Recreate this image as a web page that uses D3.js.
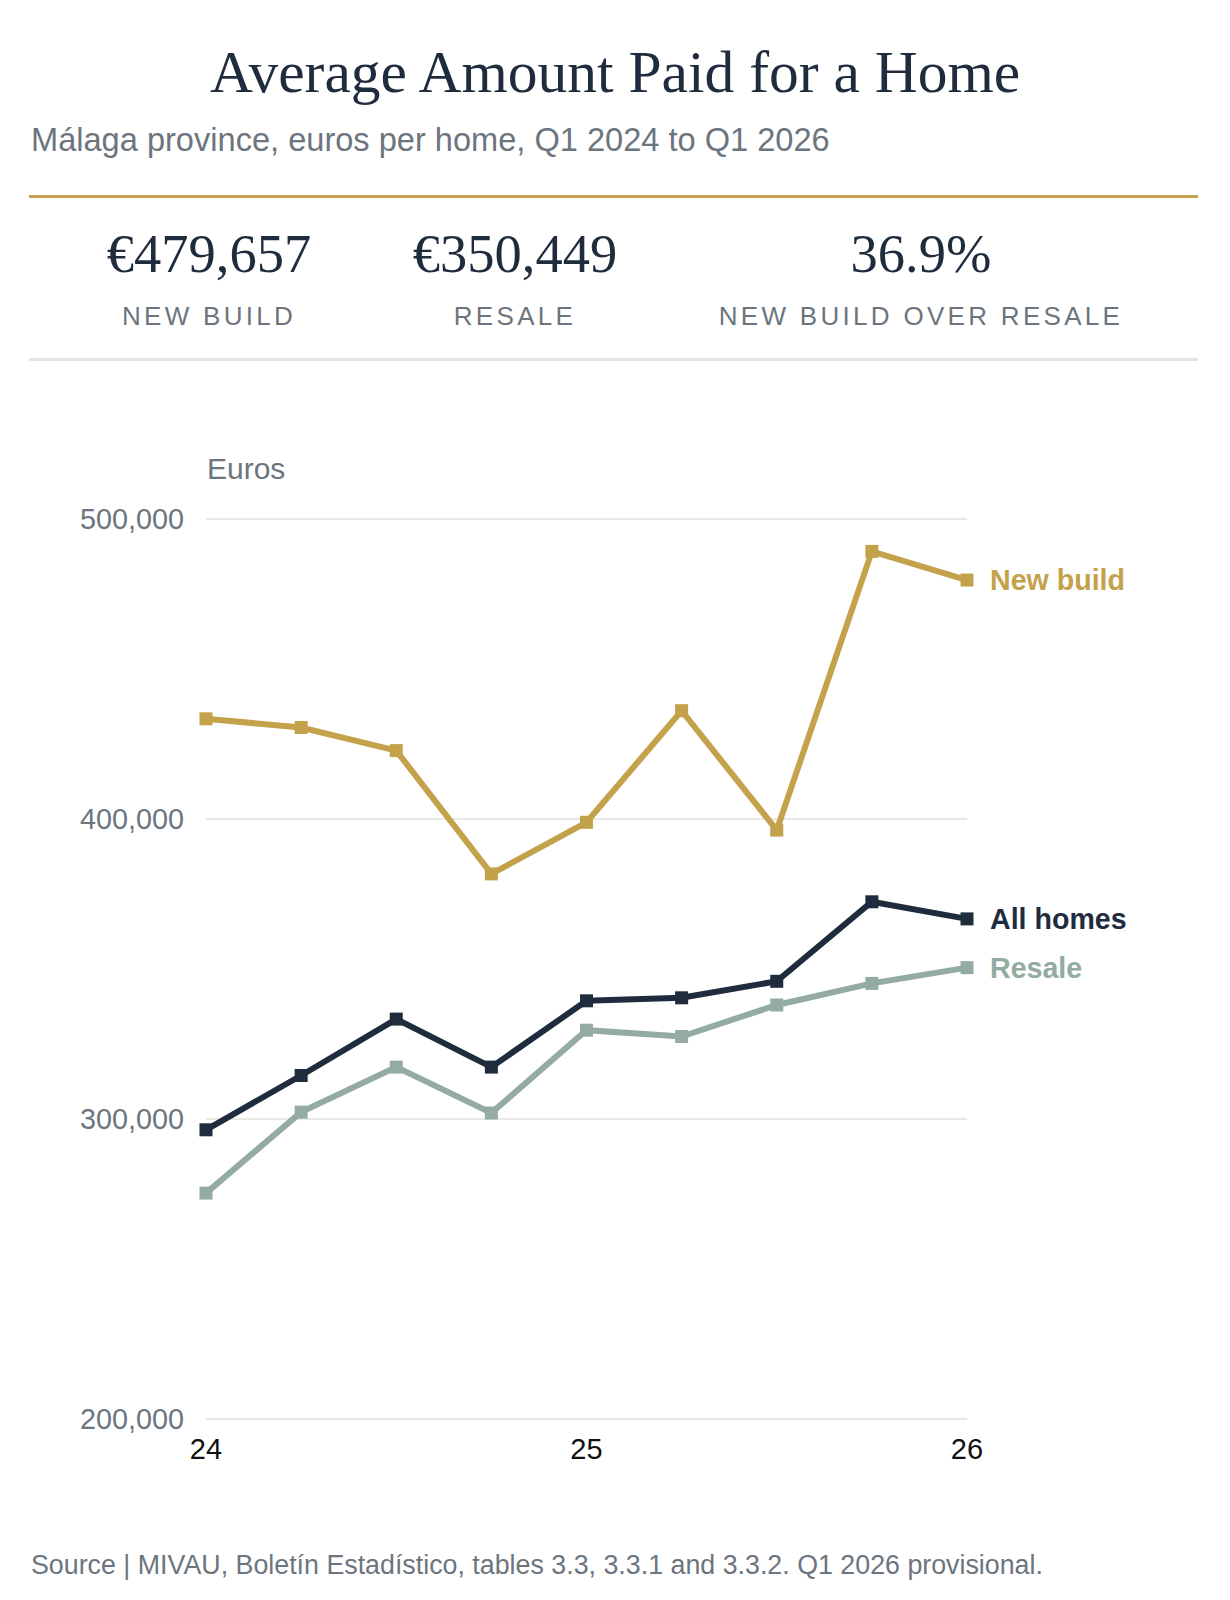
<!DOCTYPE html>
<html>
<head>
<meta charset="utf-8">
<script src="https://cdn.jsdelivr.net/npm/d3@7"></script>
<style>
  body { margin: 0; background: #fff; }
  svg { display: block; }
</style>
</head>
<body>
<svg width="1230" height="1600"></svg>
<script>
const quarters = ['Q1 2024', 'Q2 2024', 'Q3 2024', 'Q4 2024', 'Q1 2025', 'Q2 2025', 'Q3 2025', 'Q4 2025', 'Q1 2026']
const newBuild = [433400, 430500, 422800, 381700, 398900, 436100, 396300, 489200, 479657]
const allHomes = [296400, 314500, 333300, 317300, 339400, 340400, 345900, 372400, 366700]
const resale = [275300, 302300, 317300, 302000, 329600, 327500, 338000, 345200, 350449]
const yTicks = [200000, 300000, 400000, 500000]
const xTickQuarters = ['Q1 2024', 'Q1 2025', 'Q1 2026']
const xTickLabels = ['24', '25', '26']
const kpiValues = ['€479,657', '€350,449', '36.9%']
const kpiLabels = ['NEW BUILD', 'RESALE', 'NEW BUILD OVER RESALE']

const navy = '#1f2c3e'
const gold = '#c4a24b'
const sage = '#93aba0'
const grey = '#6c757e'
const sans = "Arial, 'Liberation Sans', Helvetica, sans-serif"
const serif = "'Liberation Serif', 'Times New Roman', serif"

const series = [
  {name: 'New build', values: newBuild, color: gold},
  {name: 'All homes', values: allHomes, color: navy},
  {name: 'Resale', values: resale, color: sage}
]

const svg = d3.select('svg')
const width = +svg.attr('width')

// header
svg.append('text')
  .attr('x', width / 2).attr('y', 92)
  .attr('text-anchor', 'middle')
  .attr('font-family', serif).attr('font-size', 59.5)
  .attr('fill', navy)
  .text('Average Amount Paid for a Home')

svg.append('text')
  .attr('x', 31).attr('y', 151)
  .attr('font-family', sans).attr('font-size', 32.6)
  .attr('fill', grey)
  .text('Málaga province, euros per home, Q1 2024 to Q1 2026')

svg.append('rect')
  .attr('x', 29).attr('y', 195).attr('width', 1169).attr('height', 3)
  .attr('fill', gold)

svg.append('rect')
  .attr('x', 29).attr('y', 358).attr('width', 1169).attr('height', 3)
  .attr('fill', '#e6e4dd')

const kpiX = [209, 515, 921]
const kpis = svg.append('g').selectAll('g')
  .data(kpiValues)
  .join('g')
  .attr('transform', (_, i) => `translate(${kpiX[i]}, 0)`)

kpis.append('text')
  .attr('y', 272)
  .attr('text-anchor', 'middle')
  .attr('font-family', serif).attr('font-size', 54.5)
  .attr('fill', navy)
  .text(d => d)

kpis.append('text')
  .attr('y', 325)
  .attr('text-anchor', 'middle')
  .attr('font-family', sans).attr('font-size', 26)
  .attr('letter-spacing', 3.3)
  .attr('fill', grey)
  .text((_, i) => kpiLabels[i])

// chart
const x = d3.scalePoint().domain(quarters).range([206, 967])
const y = d3.scaleLinear().domain([200000, 500000]).range([1419, 519])

const chart = svg.append('g')

chart.append('g')
  .selectAll('line')
  .data(yTicks)
  .join('line')
  .attr('x1', 206).attr('x2', 967)
  .attr('y1', d => y(d)).attr('y2', d => y(d))
  .attr('stroke', '#e3e1d9').attr('stroke-width', 1.5)

chart.append('g')
  .selectAll('text')
  .data(yTicks)
  .join('text')
  .attr('x', 184).attr('y', d => y(d))
  .attr('dy', '0.36em')
  .attr('text-anchor', 'end')
  .attr('font-family', sans).attr('font-size', 28.8)
  .attr('fill', grey)
  .text(d => d3.format(',')(d))

chart.append('text')
  .attr('x', 207).attr('y', 479)
  .attr('font-family', sans).attr('font-size', 30)
  .attr('fill', grey)
  .text('Euros')

chart.append('g')
  .selectAll('text')
  .data(xTickQuarters)
  .join('text')
  .attr('x', d => x(d)).attr('y', 1459)
  .attr('text-anchor', 'middle')
  .attr('font-family', sans).attr('font-size', 29)
  .attr('fill', '#111')
  .text((_, i) => xTickLabels[i])

const line = d3.line()
  .x((_, i) => x(quarters[i]))
  .y(d => y(d))

const lines = chart.append('g')
  .selectAll('g')
  .data(series)
  .join('g')

lines.append('path')
  .attr('d', d => line(d.values))
  .attr('fill', 'none')
  .attr('stroke', d => d.color)
  .attr('stroke-width', 6)
  .attr('stroke-linejoin', 'miter')

const markerSize = 13
lines.selectAll('rect')
  .data(d => d.values.map(v => ({v, color: d.color})))
  .join('rect')
  .attr('x', (_, i) => x(quarters[i]) - markerSize / 2)
  .attr('y', d => y(d.v) - markerSize / 2)
  .attr('width', markerSize).attr('height', markerSize)
  .attr('fill', d => d.color)

lines.append('text')
  .attr('x', 990)
  .attr('y', d => y(d.values[d.values.length - 1]))
  .attr('dy', '0.36em')
  .attr('font-family', sans).attr('font-size', 28.6).attr('font-weight', 'bold')
  .attr('fill', d => d.color)
  .text(d => d.name)

// footer
svg.append('text')
  .attr('x', 31).attr('y', 1574)
  .attr('font-family', sans).attr('font-size', 26.8)
  .attr('fill', grey)
  .text('Source | MIVAU, Boletín Estadístico, tables 3.3, 3.3.1 and 3.3.2. Q1 2026 provisional.')
</script>
</body>
</html>
